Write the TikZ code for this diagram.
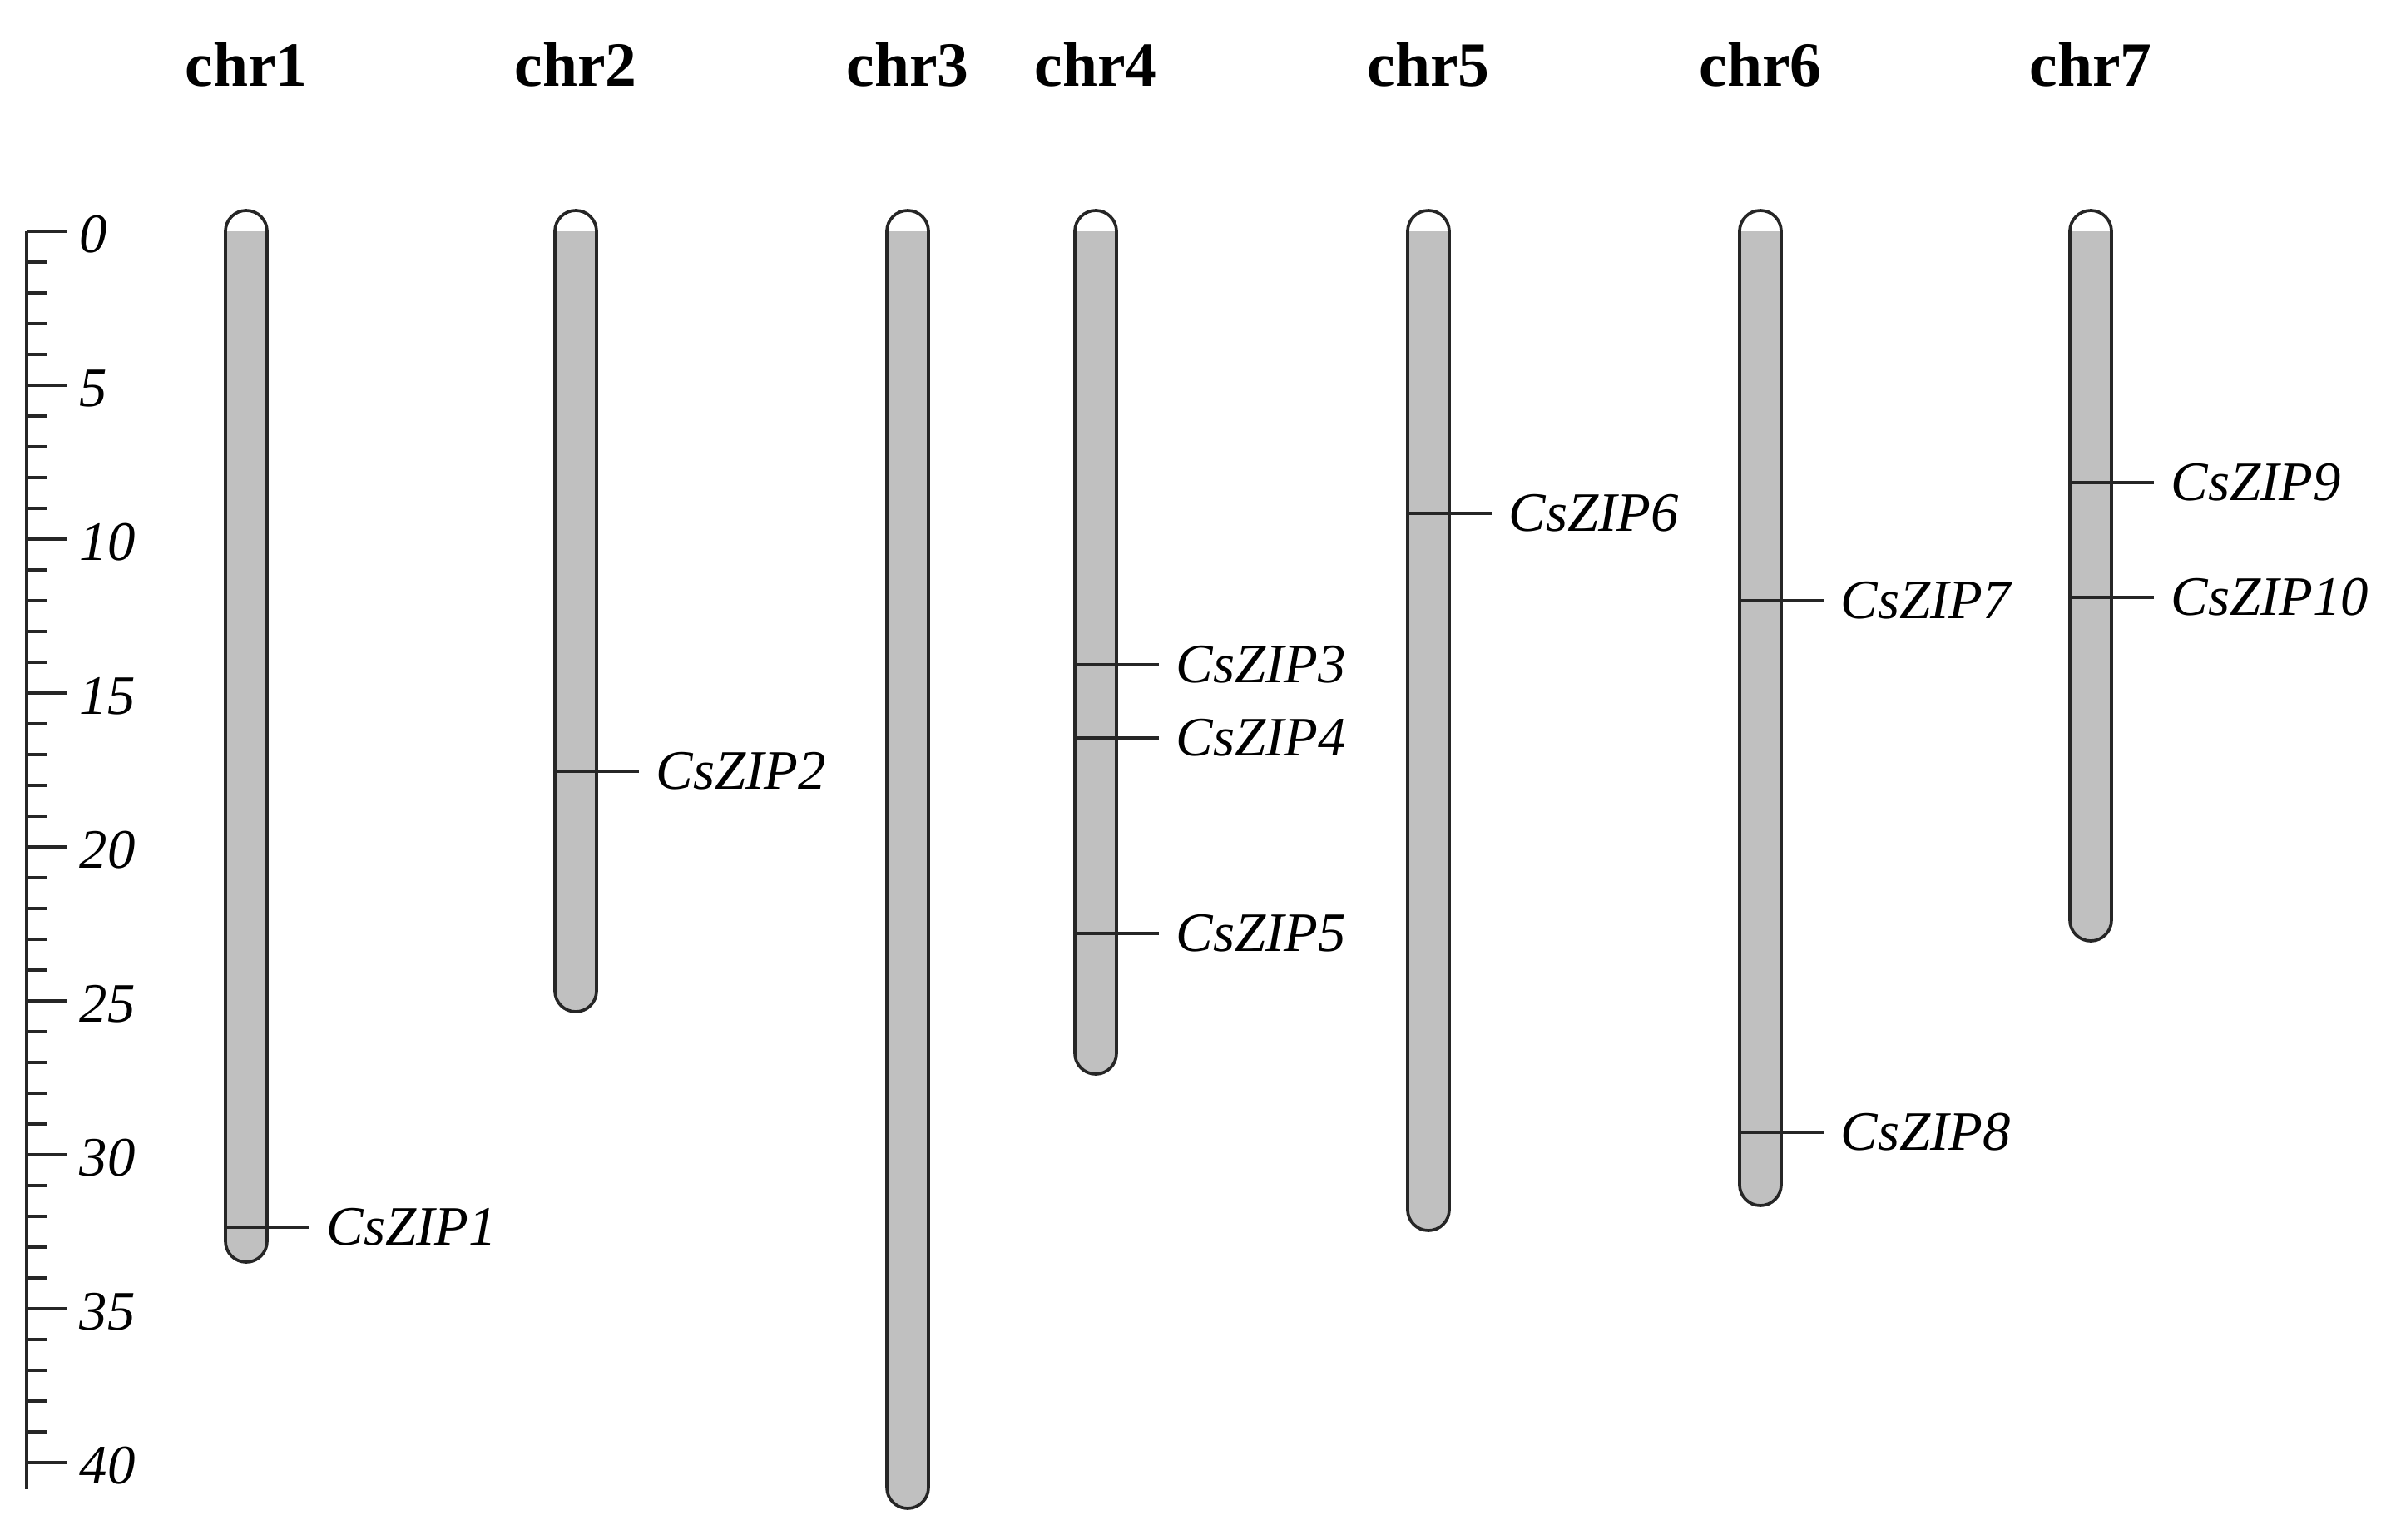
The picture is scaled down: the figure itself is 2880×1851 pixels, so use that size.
\documentclass[tikz,border=0pt]{standalone}
\usepackage{fontspec}
\setmainfont{Liberation Serif}
\definecolor{chrfill}{gray}{0.753}
\definecolor{inkline}{gray}{0.15}
\newcommand\chromosome[3]{%
  \fill[white] ({#2-25},-278) arc[start angle=180,end angle=0,radius=25] -- cycle;
  \fill[chrfill] ({#2-25},-278) -- ({#2-25},-#3) arc[start angle=180,end angle=360,radius=25] -- ({#2+25},-278) -- cycle;
  \draw[chromline] ({#2-25},-#3) -- ({#2-25},-278) arc[start angle=180,end angle=0,radius=25] -- ({#2+25},-#3) arc[start angle=0,end angle=-180,radius=25] -- cycle;
  \node[chrlabel] (#1) at (#2,-103) {#1};
}
\newcommand\gene[4]{%
  \coordinate (#1s) at ({#2-25},-#3);
  \node[genelabel] (#1) at ({#2+96},-#3) {#4};
  \draw[geneline, shorten >=0.2cm] (#1s) -- (#1.west);
}
\begin{document}
\begin{tikzpicture}[x=0.01cm,y=0.01cm,
  chromline/.style={draw=inkline, line width=1.05pt},
  geneline/.style={draw=inkline, line width=1pt},
  chrlabel/.style={font=\fontsize{21.5}{24}\selectfont\bfseries, anchor=base, inner sep=0pt},
  genelabel/.style={font=\fontsize{19}{22}\selectfont\itshape, anchor=west, inner sep=0pt},
  scalelabel/.style={font=\fontsize{19}{22}\selectfont\itshape, anchor=west, inner sep=0pt},
  rulerline/.style={draw=inkline, line width=1.05pt}]
\useasboundingbox (0,-1851) rectangle (2880,0);
% ruler
\draw[rulerline] (32,-278) -- (32,-1790);
\foreach \u in {0,...,40}{
  \pgfmathsetmacro\yy{-278-37*\u}
  \draw[rulerline] (32,\yy) -- ++(24,0);
}
\foreach \u in {0,5,...,40}{
  \pgfmathsetmacro\yy{-278-37*\u}
  \draw[rulerline] (32,\yy) -- ++(48,0);
  \node[scalelabel] (s\u) at (95,\yy-4) {\u};
}
% chromosomes
\chromosome{chr1}{296}{1492}
\chromosome{chr2}{692}{1191}
\chromosome{chr3}{1091}{1788}
\chromosome{chr4}{1317}{1266}
\chromosome{chr5}{1717}{1454}
\chromosome{chr6}{2116}{1424}
\chromosome{chr7}{2513}{1106}
% genes
\gene{g1}{296}{1475}{CsZIP1}
\gene{g2}{692}{927}{CsZIP2}
\gene{g3}{1317}{799}{CsZIP3}
\gene{g4}{1317}{887}{CsZIP4}
\gene{g5}{1317}{1122}{CsZIP5}
\gene{g6}{1717}{617}{CsZIP6}
\gene{g7}{2116}{722}{CsZIP7}
\gene{g8}{2116}{1361}{CsZIP8}
\gene{g9}{2513}{580}{CsZIP9}
\gene{g10}{2513}{718}{CsZIP10}
\end{tikzpicture}
\end{document}
